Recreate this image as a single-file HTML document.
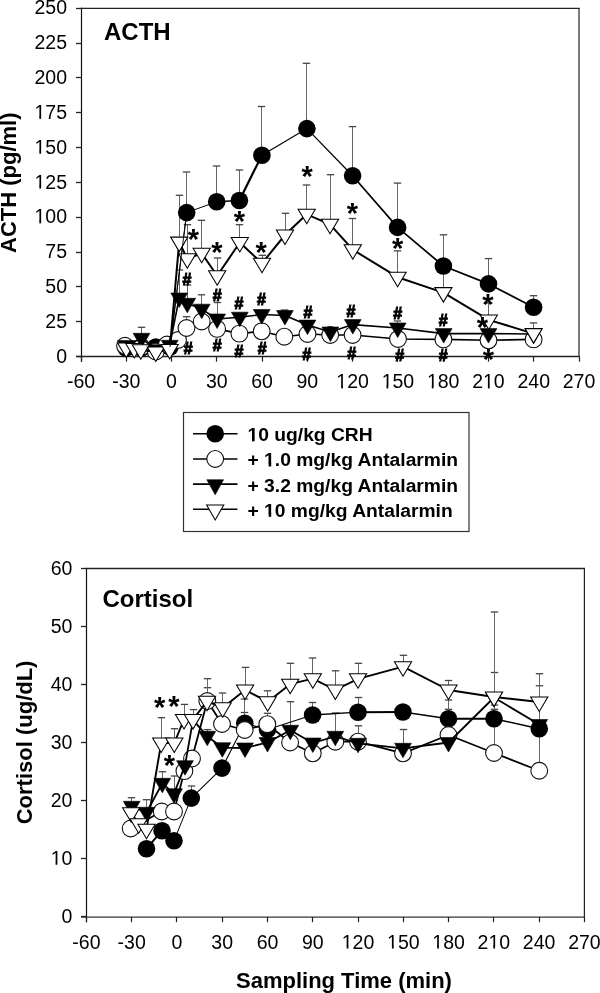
<!DOCTYPE html><html><head><meta charset="utf-8"><style>
html,body{margin:0;padding:0;background:#fff;width:600px;height:993px;overflow:hidden}
svg{position:absolute;left:0;top:0;filter:grayscale(1)}
.tk{font-family:'Liberation Sans',sans-serif;font-size:19.5px;fill:#000}
.b{font-family:'Liberation Sans',sans-serif;font-weight:bold;fill:#000}
</style></head><body>
<svg width="600" height="993" viewBox="0 0 600 993">
<line x1="80.8" y1="8.3" x2="579.6" y2="8.3" stroke="#222" stroke-width="1.3"/>
<line x1="579.0" y1="8.3" x2="579.0" y2="356.5" stroke="#222" stroke-width="1.2"/>
<line x1="81.5" y1="7.700000000000001" x2="81.5" y2="361.7" stroke="#111" stroke-width="1.2"/>
<line x1="76.0" y1="356.5" x2="579.6" y2="356.5" stroke="#222" stroke-width="1.3"/>
<line x1="76.0" y1="356.50" x2="81.5" y2="356.50" stroke="#222" stroke-width="1.3"/>
<text x="67" y="362.70" text-anchor="end" class="tk">0</text>
<line x1="76.0" y1="321.50" x2="81.5" y2="321.50" stroke="#222" stroke-width="1.3"/>
<text x="67" y="327.87" text-anchor="end" class="tk">25</text>
<line x1="76.0" y1="286.50" x2="81.5" y2="286.50" stroke="#222" stroke-width="1.3"/>
<text x="67" y="293.04" text-anchor="end" class="tk">50</text>
<line x1="76.0" y1="252.50" x2="81.5" y2="252.50" stroke="#222" stroke-width="1.3"/>
<text x="67" y="258.21" text-anchor="end" class="tk">75</text>
<line x1="76.0" y1="217.50" x2="81.5" y2="217.50" stroke="#222" stroke-width="1.3"/>
<text x="67" y="223.38" text-anchor="end" class="tk">100</text>
<line x1="76.0" y1="182.50" x2="81.5" y2="182.50" stroke="#222" stroke-width="1.3"/>
<text x="67" y="188.55" text-anchor="end" class="tk">125</text>
<line x1="76.0" y1="147.50" x2="81.5" y2="147.50" stroke="#222" stroke-width="1.3"/>
<text x="67" y="153.72" text-anchor="end" class="tk">150</text>
<line x1="76.0" y1="112.50" x2="81.5" y2="112.50" stroke="#222" stroke-width="1.3"/>
<text x="67" y="118.89" text-anchor="end" class="tk">175</text>
<line x1="76.0" y1="77.50" x2="81.5" y2="77.50" stroke="#222" stroke-width="1.3"/>
<text x="67" y="84.06" text-anchor="end" class="tk">200</text>
<line x1="76.0" y1="43.50" x2="81.5" y2="43.50" stroke="#222" stroke-width="1.3"/>
<text x="67" y="49.23" text-anchor="end" class="tk">225</text>
<line x1="76.0" y1="8.50" x2="81.5" y2="8.50" stroke="#222" stroke-width="1.3"/>
<text x="67" y="14.40" text-anchor="end" class="tk">250</text>
<line x1="81.50" y1="356.5" x2="81.50" y2="361.7" stroke="#222" stroke-width="1.2"/>
<text x="81.00" y="388.40" text-anchor="middle" class="tk">-60</text>
<line x1="126.50" y1="356.5" x2="126.50" y2="361.7" stroke="#222" stroke-width="1.2"/>
<text x="126.27" y="388.40" text-anchor="middle" class="tk">-30</text>
<line x1="171.50" y1="356.5" x2="171.50" y2="361.7" stroke="#222" stroke-width="1.2"/>
<text x="171.55" y="388.40" text-anchor="middle" class="tk">0</text>
<line x1="216.50" y1="356.5" x2="216.50" y2="361.7" stroke="#222" stroke-width="1.2"/>
<text x="216.82" y="388.40" text-anchor="middle" class="tk">30</text>
<line x1="262.50" y1="356.5" x2="262.50" y2="361.7" stroke="#222" stroke-width="1.2"/>
<text x="262.09" y="388.40" text-anchor="middle" class="tk">60</text>
<line x1="307.50" y1="356.5" x2="307.50" y2="361.7" stroke="#222" stroke-width="1.2"/>
<text x="307.36" y="388.40" text-anchor="middle" class="tk">90</text>
<line x1="352.50" y1="356.5" x2="352.50" y2="361.7" stroke="#222" stroke-width="1.2"/>
<text x="352.64" y="388.40" text-anchor="middle" class="tk">120</text>
<line x1="397.50" y1="356.5" x2="397.50" y2="361.7" stroke="#222" stroke-width="1.2"/>
<text x="397.91" y="388.40" text-anchor="middle" class="tk">150</text>
<line x1="443.50" y1="356.5" x2="443.50" y2="361.7" stroke="#222" stroke-width="1.2"/>
<text x="443.18" y="388.40" text-anchor="middle" class="tk">180</text>
<line x1="488.50" y1="356.5" x2="488.50" y2="361.7" stroke="#222" stroke-width="1.2"/>
<text x="488.45" y="388.40" text-anchor="middle" class="tk">210</text>
<line x1="533.50" y1="356.5" x2="533.50" y2="361.7" stroke="#222" stroke-width="1.2"/>
<text x="533.73" y="388.40" text-anchor="middle" class="tk">240</text>
<line x1="579.50" y1="356.5" x2="579.50" y2="361.7" stroke="#222" stroke-width="1.2"/>
<text x="579.00" y="388.40" text-anchor="middle" class="tk">270</text>
<line x1="85.8" y1="568.5" x2="585.0" y2="568.5" stroke="#222" stroke-width="1.3"/>
<line x1="584.4" y1="568.5" x2="584.4" y2="917.0" stroke="#222" stroke-width="1.2"/>
<line x1="86.5" y1="567.9" x2="86.5" y2="922.2" stroke="#111" stroke-width="1.2"/>
<line x1="81.0" y1="917.0" x2="585.0" y2="917.0" stroke="#333" stroke-width="1.25"/>
<line x1="81.0" y1="916.50" x2="86.5" y2="916.50" stroke="#222" stroke-width="1.3"/>
<text x="72.4" y="922.80" text-anchor="end" class="tk">0</text>
<line x1="81.0" y1="858.50" x2="86.5" y2="858.50" stroke="#222" stroke-width="1.3"/>
<text x="72.4" y="864.77" text-anchor="end" class="tk">10</text>
<line x1="81.0" y1="800.50" x2="86.5" y2="800.50" stroke="#222" stroke-width="1.3"/>
<text x="72.4" y="806.73" text-anchor="end" class="tk">20</text>
<line x1="81.0" y1="742.50" x2="86.5" y2="742.50" stroke="#222" stroke-width="1.3"/>
<text x="72.4" y="748.70" text-anchor="end" class="tk">30</text>
<line x1="81.0" y1="684.50" x2="86.5" y2="684.50" stroke="#222" stroke-width="1.3"/>
<text x="72.4" y="690.67" text-anchor="end" class="tk">40</text>
<line x1="81.0" y1="626.50" x2="86.5" y2="626.50" stroke="#222" stroke-width="1.3"/>
<text x="72.4" y="632.63" text-anchor="end" class="tk">50</text>
<line x1="81.0" y1="568.50" x2="86.5" y2="568.50" stroke="#222" stroke-width="1.3"/>
<text x="72.4" y="574.60" text-anchor="end" class="tk">60</text>
<line x1="86.50" y1="917.0" x2="86.50" y2="922.2" stroke="#222" stroke-width="1.2"/>
<text x="86.40" y="948.50" text-anchor="middle" class="tk">-60</text>
<line x1="131.50" y1="917.0" x2="131.50" y2="922.2" stroke="#222" stroke-width="1.2"/>
<text x="131.67" y="948.50" text-anchor="middle" class="tk">-30</text>
<line x1="176.50" y1="917.0" x2="176.50" y2="922.2" stroke="#222" stroke-width="1.2"/>
<text x="176.95" y="948.50" text-anchor="middle" class="tk">0</text>
<line x1="222.50" y1="917.0" x2="222.50" y2="922.2" stroke="#222" stroke-width="1.2"/>
<text x="222.22" y="948.50" text-anchor="middle" class="tk">30</text>
<line x1="267.50" y1="917.0" x2="267.50" y2="922.2" stroke="#222" stroke-width="1.2"/>
<text x="267.49" y="948.50" text-anchor="middle" class="tk">60</text>
<line x1="312.50" y1="917.0" x2="312.50" y2="922.2" stroke="#222" stroke-width="1.2"/>
<text x="312.76" y="948.50" text-anchor="middle" class="tk">90</text>
<line x1="358.50" y1="917.0" x2="358.50" y2="922.2" stroke="#222" stroke-width="1.2"/>
<text x="358.04" y="948.50" text-anchor="middle" class="tk">120</text>
<line x1="403.50" y1="917.0" x2="403.50" y2="922.2" stroke="#222" stroke-width="1.2"/>
<text x="403.31" y="948.50" text-anchor="middle" class="tk">150</text>
<line x1="448.50" y1="917.0" x2="448.50" y2="922.2" stroke="#222" stroke-width="1.2"/>
<text x="448.58" y="948.50" text-anchor="middle" class="tk">180</text>
<line x1="493.50" y1="917.0" x2="493.50" y2="922.2" stroke="#222" stroke-width="1.2"/>
<text x="493.85" y="948.50" text-anchor="middle" class="tk">210</text>
<line x1="539.50" y1="917.0" x2="539.50" y2="922.2" stroke="#222" stroke-width="1.2"/>
<text x="539.13" y="948.50" text-anchor="middle" class="tk">240</text>
<line x1="584.50" y1="917.0" x2="584.50" y2="922.2" stroke="#222" stroke-width="1.2"/>
<text x="584.40" y="948.50" text-anchor="middle" class="tk">270</text>
<text x="104" y="40" class="b" style="font-size:24px">ACTH</text>
<text x="102.5" y="606.5" class="b" style="font-size:24px">Cortisol</text>
<text transform="translate(16.4,253) rotate(-90)" class="b" style="font-size:22px">ACTH (pg/ml)</text>
<text transform="translate(32.4,824.3) rotate(-90)" class="b" style="font-size:22px">Cortisol (ug/dL)</text>
<text x="236" y="987.5" class="b" style="font-size:22px">Sampling Time (min)</text>
<rect x="183.5" y="412.5" width="285.5" height="119" fill="none" stroke="#333" stroke-width="1.2"/>
<line x1="193" y1="433.8" x2="237.5" y2="433.8" stroke="#000" stroke-width="1.6"/>
<circle cx="215.20" cy="433.80" r="8.8" fill="#000"/>
<text x="247.5" y="441.30" class="b" style="font-size:19.25px">10 ug/kg CRH</text>
<line x1="193" y1="458.97" x2="237.5" y2="458.97" stroke="#000" stroke-width="1.6"/>
<circle cx="215.20" cy="458.97" r="8.4" fill="#fff" stroke="#111" stroke-width="1.1"/>
<text x="247.5" y="466.47" class="b" style="font-size:19.25px">+ 1.0 mg/kg Antalarmin</text>
<line x1="193" y1="484.14" x2="237.5" y2="484.14" stroke="#000" stroke-width="1.6"/>
<polygon points="206.80,479.74 223.60,479.74 215.20,494.74" fill="#000" stroke="#000" stroke-width="0.6"/>
<text x="247.5" y="491.64" class="b" style="font-size:19.25px">+ 3.2 mg/kg Antalarmin</text>
<line x1="193" y1="509.31" x2="237.5" y2="509.31" stroke="#000" stroke-width="1.6"/>
<polygon points="206.60,504.91 223.80,504.91 215.20,519.91" fill="#fff" stroke="#000" stroke-width="1.05" stroke-linejoin="miter"/>
<text x="247.5" y="516.81" class="b" style="font-size:19.25px">+ 10 mg/kg Antalarmin</text>
<line x1="186.5" y1="212.6" x2="186.5" y2="172" stroke="#666" stroke-width="1.05"/>
<line x1="182.8" y1="172" x2="190.2" y2="172" stroke="#444" stroke-width="1.3"/>
<line x1="216.5" y1="201.7" x2="216.5" y2="166" stroke="#666" stroke-width="1.05"/>
<line x1="212.8" y1="166" x2="220.2" y2="166" stroke="#444" stroke-width="1.3"/>
<line x1="239.5" y1="200.5" x2="239.5" y2="170" stroke="#666" stroke-width="1.05"/>
<line x1="235.8" y1="170" x2="243.2" y2="170" stroke="#444" stroke-width="1.3"/>
<line x1="261.5" y1="155.2" x2="261.5" y2="106.5" stroke="#666" stroke-width="1.05"/>
<line x1="257.8" y1="106.5" x2="265.2" y2="106.5" stroke="#444" stroke-width="1.3"/>
<line x1="306.5" y1="128.6" x2="306.5" y2="63.3" stroke="#666" stroke-width="1.05"/>
<line x1="302.8" y1="63.3" x2="310.2" y2="63.3" stroke="#444" stroke-width="1.3"/>
<line x1="352.5" y1="175.8" x2="352.5" y2="126.6" stroke="#666" stroke-width="1.05"/>
<line x1="348.8" y1="126.6" x2="356.2" y2="126.6" stroke="#444" stroke-width="1.3"/>
<line x1="397.5" y1="227.4" x2="397.5" y2="183.1" stroke="#666" stroke-width="1.05"/>
<line x1="393.8" y1="183.1" x2="401.2" y2="183.1" stroke="#444" stroke-width="1.3"/>
<line x1="443.5" y1="266" x2="443.5" y2="234.8" stroke="#666" stroke-width="1.05"/>
<line x1="439.8" y1="234.8" x2="447.2" y2="234.8" stroke="#444" stroke-width="1.3"/>
<line x1="488.5" y1="283.9" x2="488.5" y2="258.6" stroke="#666" stroke-width="1.05"/>
<line x1="484.8" y1="258.6" x2="492.2" y2="258.6" stroke="#444" stroke-width="1.3"/>
<line x1="533.5" y1="307.2" x2="533.5" y2="295.7" stroke="#666" stroke-width="1.05"/>
<line x1="529.8" y1="295.7" x2="537.2" y2="295.7" stroke="#444" stroke-width="1.3"/>
<line x1="186.5" y1="328" x2="186.5" y2="316.7" stroke="#666" stroke-width="1.05"/>
<line x1="182.8" y1="316.7" x2="190.2" y2="316.7" stroke="#444" stroke-width="1.3"/>
<line x1="141.5" y1="338.3" x2="141.5" y2="327.3" stroke="#666" stroke-width="1.05"/>
<line x1="137.8" y1="327.3" x2="145.2" y2="327.3" stroke="#444" stroke-width="1.3"/>
<line x1="179.5" y1="298" x2="179.5" y2="270" stroke="#666" stroke-width="1.05"/>
<line x1="175.8" y1="270" x2="183.2" y2="270" stroke="#444" stroke-width="1.3"/>
<line x1="187.5" y1="303.3" x2="187.5" y2="285" stroke="#666" stroke-width="1.05"/>
<line x1="183.8" y1="285" x2="191.2" y2="285" stroke="#444" stroke-width="1.3"/>
<line x1="201.5" y1="309.2" x2="201.5" y2="294.8" stroke="#666" stroke-width="1.05"/>
<line x1="197.8" y1="294.8" x2="205.2" y2="294.8" stroke="#444" stroke-width="1.3"/>
<line x1="217.5" y1="319" x2="217.5" y2="302.5" stroke="#666" stroke-width="1.05"/>
<line x1="213.8" y1="302.5" x2="221.2" y2="302.5" stroke="#444" stroke-width="1.3"/>
<line x1="284.5" y1="315.5" x2="284.5" y2="310" stroke="#666" stroke-width="1.05"/>
<line x1="280.8" y1="310" x2="288.2" y2="310" stroke="#444" stroke-width="1.3"/>
<line x1="397.5" y1="328" x2="397.5" y2="321" stroke="#666" stroke-width="1.05"/>
<line x1="393.8" y1="321" x2="401.2" y2="321" stroke="#444" stroke-width="1.3"/>
<line x1="179.5" y1="242.1" x2="179.5" y2="195.3" stroke="#666" stroke-width="1.05"/>
<line x1="175.8" y1="195.3" x2="183.2" y2="195.3" stroke="#444" stroke-width="1.3"/>
<line x1="187.5" y1="258.8" x2="187.5" y2="224.7" stroke="#666" stroke-width="1.05"/>
<line x1="183.8" y1="224.7" x2="191.2" y2="224.7" stroke="#444" stroke-width="1.3"/>
<line x1="201.5" y1="253.3" x2="201.5" y2="220.3" stroke="#666" stroke-width="1.05"/>
<line x1="197.8" y1="220.3" x2="205.2" y2="220.3" stroke="#444" stroke-width="1.3"/>
<line x1="217.5" y1="275.8" x2="217.5" y2="258" stroke="#666" stroke-width="1.05"/>
<line x1="213.8" y1="258" x2="221.2" y2="258" stroke="#444" stroke-width="1.3"/>
<line x1="239.5" y1="242.5" x2="239.5" y2="224.7" stroke="#666" stroke-width="1.05"/>
<line x1="235.8" y1="224.7" x2="243.2" y2="224.7" stroke="#444" stroke-width="1.3"/>
<line x1="262.5" y1="263.3" x2="262.5" y2="255.3" stroke="#666" stroke-width="1.05"/>
<line x1="258.8" y1="255.3" x2="266.2" y2="255.3" stroke="#444" stroke-width="1.3"/>
<line x1="285.5" y1="235" x2="285.5" y2="213.3" stroke="#666" stroke-width="1.05"/>
<line x1="281.8" y1="213.3" x2="289.2" y2="213.3" stroke="#444" stroke-width="1.3"/>
<line x1="306.5" y1="214.3" x2="306.5" y2="185" stroke="#666" stroke-width="1.05"/>
<line x1="302.8" y1="185" x2="310.2" y2="185" stroke="#444" stroke-width="1.3"/>
<line x1="330.5" y1="224.3" x2="330.5" y2="174.7" stroke="#666" stroke-width="1.05"/>
<line x1="326.8" y1="174.7" x2="334.2" y2="174.7" stroke="#444" stroke-width="1.3"/>
<line x1="352.5" y1="249.7" x2="352.5" y2="218.5" stroke="#666" stroke-width="1.05"/>
<line x1="348.8" y1="218.5" x2="356.2" y2="218.5" stroke="#444" stroke-width="1.3"/>
<line x1="397.5" y1="277.2" x2="397.5" y2="250.9" stroke="#666" stroke-width="1.05"/>
<line x1="393.8" y1="250.9" x2="401.2" y2="250.9" stroke="#444" stroke-width="1.3"/>
<line x1="443.5" y1="292.6" x2="443.5" y2="270" stroke="#666" stroke-width="1.05"/>
<line x1="439.8" y1="270" x2="447.2" y2="270" stroke="#444" stroke-width="1.3"/>
<line x1="488.5" y1="319.9" x2="488.5" y2="303" stroke="#666" stroke-width="1.05"/>
<line x1="484.8" y1="303" x2="492.2" y2="303" stroke="#444" stroke-width="1.3"/>
<line x1="533.5" y1="333.6" x2="533.5" y2="322.9" stroke="#666" stroke-width="1.05"/>
<line x1="529.8" y1="322.9" x2="537.2" y2="322.9" stroke="#444" stroke-width="1.3"/>
<line x1="191.5" y1="798.1" x2="191.5" y2="786" stroke="#666" stroke-width="1.05"/>
<line x1="187.8" y1="786" x2="195.2" y2="786" stroke="#444" stroke-width="1.3"/>
<line x1="244.5" y1="723.3" x2="244.5" y2="712.5" stroke="#666" stroke-width="1.05"/>
<line x1="240.8" y1="712.5" x2="248.2" y2="712.5" stroke="#444" stroke-width="1.3"/>
<line x1="312.5" y1="715" x2="312.5" y2="702.5" stroke="#666" stroke-width="1.05"/>
<line x1="308.8" y1="702.5" x2="316.2" y2="702.5" stroke="#444" stroke-width="1.3"/>
<line x1="358.5" y1="712.2" x2="358.5" y2="697.5" stroke="#666" stroke-width="1.05"/>
<line x1="354.8" y1="697.5" x2="362.2" y2="697.5" stroke="#444" stroke-width="1.3"/>
<line x1="448.5" y1="718.75" x2="448.5" y2="709.3" stroke="#666" stroke-width="1.05"/>
<line x1="444.8" y1="709.3" x2="452.2" y2="709.3" stroke="#444" stroke-width="1.3"/>
<line x1="494.5" y1="718.75" x2="494.5" y2="709.3" stroke="#666" stroke-width="1.05"/>
<line x1="490.8" y1="709.3" x2="498.2" y2="709.3" stroke="#444" stroke-width="1.3"/>
<line x1="207.5" y1="701" x2="207.5" y2="687.7" stroke="#666" stroke-width="1.05"/>
<line x1="203.8" y1="687.7" x2="211.2" y2="687.7" stroke="#444" stroke-width="1.3"/>
<line x1="244.5" y1="730" x2="244.5" y2="699" stroke="#666" stroke-width="1.05"/>
<line x1="240.8" y1="699" x2="248.2" y2="699" stroke="#444" stroke-width="1.3"/>
<line x1="267.5" y1="724.2" x2="267.5" y2="713.3" stroke="#666" stroke-width="1.05"/>
<line x1="263.8" y1="713.3" x2="271.2" y2="713.3" stroke="#444" stroke-width="1.3"/>
<line x1="358.5" y1="741.7" x2="358.5" y2="725.8" stroke="#666" stroke-width="1.05"/>
<line x1="354.8" y1="725.8" x2="362.2" y2="725.8" stroke="#444" stroke-width="1.3"/>
<line x1="448.5" y1="735" x2="448.5" y2="700" stroke="#666" stroke-width="1.05"/>
<line x1="444.8" y1="700" x2="452.2" y2="700" stroke="#444" stroke-width="1.3"/>
<line x1="494.5" y1="753" x2="494.5" y2="705" stroke="#666" stroke-width="1.05"/>
<line x1="490.8" y1="705" x2="498.2" y2="705" stroke="#444" stroke-width="1.3"/>
<line x1="539.5" y1="770.75" x2="539.5" y2="705" stroke="#666" stroke-width="1.05"/>
<line x1="535.8" y1="705" x2="543.2" y2="705" stroke="#444" stroke-width="1.3"/>
<line x1="131.5" y1="806.3" x2="131.5" y2="797.7" stroke="#666" stroke-width="1.05"/>
<line x1="127.8" y1="797.7" x2="135.2" y2="797.7" stroke="#444" stroke-width="1.3"/>
<line x1="146.5" y1="812.3" x2="146.5" y2="799.7" stroke="#666" stroke-width="1.05"/>
<line x1="142.8" y1="799.7" x2="150.2" y2="799.7" stroke="#444" stroke-width="1.3"/>
<line x1="162.5" y1="783.3" x2="162.5" y2="771.7" stroke="#666" stroke-width="1.05"/>
<line x1="158.8" y1="771.7" x2="166.2" y2="771.7" stroke="#444" stroke-width="1.3"/>
<line x1="174.5" y1="793.7" x2="174.5" y2="776" stroke="#666" stroke-width="1.05"/>
<line x1="170.8" y1="776" x2="178.2" y2="776" stroke="#444" stroke-width="1.3"/>
<line x1="207.5" y1="736.3" x2="207.5" y2="729.6" stroke="#666" stroke-width="1.05"/>
<line x1="203.8" y1="729.6" x2="211.2" y2="729.6" stroke="#444" stroke-width="1.3"/>
<line x1="290.5" y1="730.3" x2="290.5" y2="701.7" stroke="#666" stroke-width="1.05"/>
<line x1="286.8" y1="701.7" x2="294.2" y2="701.7" stroke="#444" stroke-width="1.3"/>
<line x1="335.5" y1="736.3" x2="335.5" y2="713" stroke="#666" stroke-width="1.05"/>
<line x1="331.8" y1="713" x2="339.2" y2="713" stroke="#444" stroke-width="1.3"/>
<line x1="403.5" y1="748.3" x2="403.5" y2="729.5" stroke="#666" stroke-width="1.05"/>
<line x1="399.8" y1="729.5" x2="407.2" y2="729.5" stroke="#444" stroke-width="1.3"/>
<line x1="494.5" y1="697.5" x2="494.5" y2="672.5" stroke="#666" stroke-width="1.05"/>
<line x1="490.8" y1="672.5" x2="498.2" y2="672.5" stroke="#444" stroke-width="1.3"/>
<line x1="539.5" y1="724.5" x2="539.5" y2="685.75" stroke="#666" stroke-width="1.05"/>
<line x1="535.8" y1="685.75" x2="543.2" y2="685.75" stroke="#444" stroke-width="1.3"/>
<line x1="161.5" y1="743" x2="161.5" y2="717.7" stroke="#666" stroke-width="1.05"/>
<line x1="157.8" y1="717.7" x2="165.2" y2="717.7" stroke="#444" stroke-width="1.3"/>
<line x1="174.5" y1="743" x2="174.5" y2="728.7" stroke="#666" stroke-width="1.05"/>
<line x1="170.8" y1="728.7" x2="178.2" y2="728.7" stroke="#444" stroke-width="1.3"/>
<line x1="184.5" y1="719.4" x2="184.5" y2="704.4" stroke="#666" stroke-width="1.05"/>
<line x1="180.8" y1="704.4" x2="188.2" y2="704.4" stroke="#444" stroke-width="1.3"/>
<line x1="193.5" y1="719.4" x2="193.5" y2="709.6" stroke="#666" stroke-width="1.05"/>
<line x1="189.8" y1="709.6" x2="197.2" y2="709.6" stroke="#444" stroke-width="1.3"/>
<line x1="207.5" y1="701.3" x2="207.5" y2="678.7" stroke="#666" stroke-width="1.05"/>
<line x1="203.8" y1="678.7" x2="211.2" y2="678.7" stroke="#444" stroke-width="1.3"/>
<line x1="222.5" y1="707.7" x2="222.5" y2="693" stroke="#666" stroke-width="1.05"/>
<line x1="218.8" y1="693" x2="226.2" y2="693" stroke="#444" stroke-width="1.3"/>
<line x1="245.5" y1="690" x2="245.5" y2="667.4" stroke="#666" stroke-width="1.05"/>
<line x1="241.8" y1="667.4" x2="249.2" y2="667.4" stroke="#444" stroke-width="1.3"/>
<line x1="267.5" y1="701.7" x2="267.5" y2="690.8" stroke="#666" stroke-width="1.05"/>
<line x1="263.8" y1="690.8" x2="271.2" y2="690.8" stroke="#444" stroke-width="1.3"/>
<line x1="290.5" y1="684.2" x2="290.5" y2="663.3" stroke="#666" stroke-width="1.05"/>
<line x1="286.8" y1="663.3" x2="294.2" y2="663.3" stroke="#444" stroke-width="1.3"/>
<line x1="312.5" y1="678.7" x2="312.5" y2="658" stroke="#666" stroke-width="1.05"/>
<line x1="308.8" y1="658" x2="316.2" y2="658" stroke="#444" stroke-width="1.3"/>
<line x1="335.5" y1="690" x2="335.5" y2="670.8" stroke="#666" stroke-width="1.05"/>
<line x1="331.8" y1="670.8" x2="339.2" y2="670.8" stroke="#444" stroke-width="1.3"/>
<line x1="358.5" y1="678.8" x2="358.5" y2="663.3" stroke="#666" stroke-width="1.05"/>
<line x1="354.8" y1="663.3" x2="362.2" y2="663.3" stroke="#444" stroke-width="1.3"/>
<line x1="403.5" y1="666.7" x2="403.5" y2="655.3" stroke="#666" stroke-width="1.05"/>
<line x1="399.8" y1="655.3" x2="407.2" y2="655.3" stroke="#444" stroke-width="1.3"/>
<line x1="448.5" y1="690" x2="448.5" y2="680.5" stroke="#666" stroke-width="1.05"/>
<line x1="444.8" y1="680.5" x2="452.2" y2="680.5" stroke="#444" stroke-width="1.3"/>
<line x1="494.5" y1="697" x2="494.5" y2="612" stroke="#666" stroke-width="1.05"/>
<line x1="490.8" y1="612" x2="498.2" y2="612" stroke="#444" stroke-width="1.3"/>
<line x1="539.5" y1="702" x2="539.5" y2="673.75" stroke="#666" stroke-width="1.05"/>
<line x1="535.8" y1="673.75" x2="543.2" y2="673.75" stroke="#444" stroke-width="1.3"/>
<line x1="126" y1="348" x2="141.5" y2="348" stroke="#000" stroke-width="1.7" stroke-linecap="round"/>
<line x1="141.5" y1="348" x2="155.8" y2="347" stroke="#000" stroke-width="1.7" stroke-linecap="round"/>
<line x1="155.8" y1="347" x2="170" y2="347" stroke="#000" stroke-width="1.7" stroke-linecap="round"/>
<line x1="170" y1="347" x2="186.7" y2="212.6" stroke="#000" stroke-width="1.0" stroke-linecap="round"/>
<line x1="186.7" y1="212.6" x2="216.7" y2="201.7" stroke="#000" stroke-width="1.0" stroke-linecap="round"/>
<line x1="216.7" y1="201.7" x2="239.4" y2="200.5" stroke="#000" stroke-width="1.6" stroke-linecap="round"/>
<line x1="239.4" y1="200.5" x2="261.9" y2="155.2" stroke="#000" stroke-width="2.2" stroke-linecap="round"/>
<line x1="261.9" y1="155.2" x2="306.9" y2="128.6" stroke="#000" stroke-width="1.2" stroke-linecap="round"/>
<line x1="306.9" y1="128.6" x2="352.6" y2="175.8" stroke="#000" stroke-width="1.3" stroke-linecap="round"/>
<line x1="352.6" y1="175.8" x2="397.6" y2="227.4" stroke="#000" stroke-width="1.7" stroke-linecap="round"/>
<line x1="397.6" y1="227.4" x2="443.4" y2="266" stroke="#000" stroke-width="1.7" stroke-linecap="round"/>
<line x1="443.4" y1="266" x2="488.5" y2="283.9" stroke="#000" stroke-width="1.7" stroke-linecap="round"/>
<line x1="488.5" y1="283.9" x2="533.6" y2="307.2" stroke="#000" stroke-width="1.7" stroke-linecap="round"/>
<circle cx="126.00" cy="348.00" r="8.8" fill="#000"/>
<circle cx="141.50" cy="348.00" r="8.8" fill="#000"/>
<circle cx="155.80" cy="347.00" r="8.8" fill="#000"/>
<circle cx="170.00" cy="347.00" r="8.8" fill="#000"/>
<circle cx="186.70" cy="212.60" r="8.8" fill="#000"/>
<circle cx="216.70" cy="201.70" r="8.8" fill="#000"/>
<circle cx="239.40" cy="200.50" r="8.8" fill="#000"/>
<circle cx="261.90" cy="155.20" r="8.8" fill="#000"/>
<circle cx="306.90" cy="128.60" r="8.8" fill="#000"/>
<circle cx="352.60" cy="175.80" r="8.8" fill="#000"/>
<circle cx="397.60" cy="227.40" r="8.8" fill="#000"/>
<circle cx="443.40" cy="266.00" r="8.8" fill="#000"/>
<circle cx="488.50" cy="283.90" r="8.8" fill="#000"/>
<circle cx="533.60" cy="307.20" r="8.8" fill="#000"/>
<polyline points="125,345.8 141.5,347 155.8,351.5 167,344.5 178,340 186.5,328 201.7,321.5 217.1,328.9 239.4,333.6 261.7,331.3 284.3,336.7 307.5,334 330.2,335 352.6,335 398,339 443.4,339.4 488.5,340.3 533.6,339.4" fill="none" stroke="#000" stroke-width="1.6" stroke-linejoin="round"/>
<circle cx="125.00" cy="345.80" r="8.4" fill="#fff" stroke="#111" stroke-width="1.1"/>
<circle cx="141.50" cy="347.00" r="8.4" fill="#fff" stroke="#111" stroke-width="1.1"/>
<circle cx="155.80" cy="351.50" r="8.4" fill="#fff" stroke="#111" stroke-width="1.1"/>
<circle cx="167.00" cy="344.50" r="8.4" fill="#fff" stroke="#111" stroke-width="1.1"/>
<circle cx="178.00" cy="340.00" r="8.4" fill="#fff" stroke="#111" stroke-width="1.1"/>
<circle cx="186.50" cy="328.00" r="8.4" fill="#fff" stroke="#111" stroke-width="1.1"/>
<circle cx="201.70" cy="321.50" r="8.4" fill="#fff" stroke="#111" stroke-width="1.1"/>
<circle cx="217.10" cy="328.90" r="8.4" fill="#fff" stroke="#111" stroke-width="1.1"/>
<circle cx="239.40" cy="333.60" r="8.4" fill="#fff" stroke="#111" stroke-width="1.1"/>
<circle cx="261.70" cy="331.30" r="8.4" fill="#fff" stroke="#111" stroke-width="1.1"/>
<circle cx="284.30" cy="336.70" r="8.4" fill="#fff" stroke="#111" stroke-width="1.1"/>
<circle cx="307.50" cy="334.00" r="8.4" fill="#fff" stroke="#111" stroke-width="1.1"/>
<circle cx="330.20" cy="335.00" r="8.4" fill="#fff" stroke="#111" stroke-width="1.1"/>
<circle cx="352.60" cy="335.00" r="8.4" fill="#fff" stroke="#111" stroke-width="1.1"/>
<circle cx="398.00" cy="339.00" r="8.4" fill="#fff" stroke="#111" stroke-width="1.1"/>
<circle cx="443.40" cy="339.40" r="8.4" fill="#fff" stroke="#111" stroke-width="1.1"/>
<circle cx="488.50" cy="340.30" r="8.4" fill="#fff" stroke="#111" stroke-width="1.1"/>
<circle cx="533.60" cy="339.40" r="8.4" fill="#fff" stroke="#111" stroke-width="1.1"/>
<polyline points="126,345.5 141.5,338.3 155.8,349.7 169.7,345.3 179.2,298 187.3,303.3 201.7,309.2 217.1,319 239.8,317.2 261.7,314.5 284.9,315.5 307.5,325.1 330.4,332 352.8,324.6 397.7,328 443.7,333.6 488.5,333.6 533.6,334" fill="none" stroke="#000" stroke-width="1.6" stroke-linejoin="round"/>
<polygon points="117.60,340.50 134.40,340.50 126.00,355.00" fill="#000" stroke="#000" stroke-width="0.6"/>
<polygon points="133.10,333.30 149.90,333.30 141.50,347.80" fill="#000" stroke="#000" stroke-width="0.6"/>
<polygon points="147.40,344.70 164.20,344.70 155.80,359.20" fill="#000" stroke="#000" stroke-width="0.6"/>
<polygon points="161.30,340.30 178.10,340.30 169.70,354.80" fill="#000" stroke="#000" stroke-width="0.6"/>
<polygon points="170.80,293.00 187.60,293.00 179.20,307.50" fill="#000" stroke="#000" stroke-width="0.6"/>
<polygon points="178.90,298.30 195.70,298.30 187.30,312.80" fill="#000" stroke="#000" stroke-width="0.6"/>
<polygon points="193.30,304.20 210.10,304.20 201.70,318.70" fill="#000" stroke="#000" stroke-width="0.6"/>
<polygon points="208.70,314.00 225.50,314.00 217.10,328.50" fill="#000" stroke="#000" stroke-width="0.6"/>
<polygon points="231.40,312.20 248.20,312.20 239.80,326.70" fill="#000" stroke="#000" stroke-width="0.6"/>
<polygon points="253.30,309.50 270.10,309.50 261.70,324.00" fill="#000" stroke="#000" stroke-width="0.6"/>
<polygon points="276.50,310.50 293.30,310.50 284.90,325.00" fill="#000" stroke="#000" stroke-width="0.6"/>
<polygon points="299.10,320.10 315.90,320.10 307.50,334.60" fill="#000" stroke="#000" stroke-width="0.6"/>
<polygon points="322.00,327.00 338.80,327.00 330.40,341.50" fill="#000" stroke="#000" stroke-width="0.6"/>
<polygon points="344.40,319.60 361.20,319.60 352.80,334.10" fill="#000" stroke="#000" stroke-width="0.6"/>
<polygon points="389.30,323.00 406.10,323.00 397.70,337.50" fill="#000" stroke="#000" stroke-width="0.6"/>
<polygon points="435.30,328.60 452.10,328.60 443.70,343.10" fill="#000" stroke="#000" stroke-width="0.6"/>
<polygon points="480.10,328.60 496.90,328.60 488.50,343.10" fill="#000" stroke="#000" stroke-width="0.6"/>
<polygon points="525.20,329.00 542.00,329.00 533.60,343.50" fill="#000" stroke="#000" stroke-width="0.6"/>
<polyline points="126.2,347.9 134.3,348.5 140.8,349.7 155.8,352 169.7,349.5 179.2,242.1 187.3,258.8 201.7,253.3 217.2,275.8 239.8,242.5 262,263.3 285,235 306.7,214.3 330,224.3 352.8,249.7 397.6,277.2 443.4,292.6 488.8,319.9 533.6,333.6" fill="none" stroke="#000" stroke-width="2.0" stroke-linejoin="round"/>
<polygon points="117.60,342.90 134.80,342.90 126.20,357.40" fill="#fff" stroke="#000" stroke-width="1.05" stroke-linejoin="miter"/>
<polygon points="125.70,343.50 142.90,343.50 134.30,358.00" fill="#fff" stroke="#000" stroke-width="1.05" stroke-linejoin="miter"/>
<polygon points="132.20,344.70 149.40,344.70 140.80,359.20" fill="#fff" stroke="#000" stroke-width="1.05" stroke-linejoin="miter"/>
<polygon points="147.20,347.00 164.40,347.00 155.80,361.50" fill="#fff" stroke="#000" stroke-width="1.05" stroke-linejoin="miter"/>
<polygon points="161.10,344.50 178.30,344.50 169.70,359.00" fill="#fff" stroke="#000" stroke-width="1.05" stroke-linejoin="miter"/>
<polygon points="170.60,237.10 187.80,237.10 179.20,251.60" fill="#fff" stroke="#000" stroke-width="1.05" stroke-linejoin="miter"/>
<polygon points="178.70,253.80 195.90,253.80 187.30,268.30" fill="#fff" stroke="#000" stroke-width="1.05" stroke-linejoin="miter"/>
<polygon points="193.10,248.30 210.30,248.30 201.70,262.80" fill="#fff" stroke="#000" stroke-width="1.05" stroke-linejoin="miter"/>
<polygon points="208.60,270.80 225.80,270.80 217.20,285.30" fill="#fff" stroke="#000" stroke-width="1.05" stroke-linejoin="miter"/>
<polygon points="231.20,237.50 248.40,237.50 239.80,252.00" fill="#fff" stroke="#000" stroke-width="1.05" stroke-linejoin="miter"/>
<polygon points="253.40,258.30 270.60,258.30 262.00,272.80" fill="#fff" stroke="#000" stroke-width="1.05" stroke-linejoin="miter"/>
<polygon points="276.40,230.00 293.60,230.00 285.00,244.50" fill="#fff" stroke="#000" stroke-width="1.05" stroke-linejoin="miter"/>
<polygon points="298.10,209.30 315.30,209.30 306.70,223.80" fill="#fff" stroke="#000" stroke-width="1.05" stroke-linejoin="miter"/>
<polygon points="321.40,219.30 338.60,219.30 330.00,233.80" fill="#fff" stroke="#000" stroke-width="1.05" stroke-linejoin="miter"/>
<polygon points="344.20,244.70 361.40,244.70 352.80,259.20" fill="#fff" stroke="#000" stroke-width="1.05" stroke-linejoin="miter"/>
<polygon points="389.00,272.20 406.20,272.20 397.60,286.70" fill="#fff" stroke="#000" stroke-width="1.05" stroke-linejoin="miter"/>
<polygon points="434.80,287.60 452.00,287.60 443.40,302.10" fill="#fff" stroke="#000" stroke-width="1.05" stroke-linejoin="miter"/>
<polygon points="480.20,314.90 497.40,314.90 488.80,329.40" fill="#fff" stroke="#000" stroke-width="1.05" stroke-linejoin="miter"/>
<polygon points="525.00,328.60 542.20,328.60 533.60,343.10" fill="#fff" stroke="#000" stroke-width="1.05" stroke-linejoin="miter"/>
<line x1="146.5" y1="848.7" x2="162" y2="830.7" stroke="#000" stroke-width="2.0" stroke-linecap="round"/>
<line x1="162" y1="830.7" x2="174" y2="840.7" stroke="#000" stroke-width="1.8" stroke-linecap="round"/>
<line x1="174" y1="840.7" x2="191.3" y2="798.1" stroke="#000" stroke-width="1.0" stroke-linecap="round"/>
<line x1="191.3" y1="798.1" x2="222" y2="768.1" stroke="#000" stroke-width="1.1" stroke-linecap="round"/>
<line x1="222" y1="768.1" x2="244.8" y2="723.3" stroke="#000" stroke-width="1.1" stroke-linecap="round"/>
<line x1="244.8" y1="723.3" x2="267.5" y2="729.5" stroke="#000" stroke-width="1.2" stroke-linecap="round"/>
<line x1="267.5" y1="729.5" x2="312.6" y2="715" stroke="#000" stroke-width="1.1" stroke-linecap="round"/>
<line x1="312.6" y1="715" x2="358" y2="712.2" stroke="#000" stroke-width="1.3" stroke-linecap="round"/>
<line x1="358" y1="712.2" x2="402.9" y2="712" stroke="#000" stroke-width="1.9" stroke-linecap="round"/>
<line x1="402.9" y1="712" x2="448.5" y2="718.75" stroke="#000" stroke-width="1.5" stroke-linecap="round"/>
<line x1="448.5" y1="718.75" x2="494" y2="718.75" stroke="#000" stroke-width="1.9" stroke-linecap="round"/>
<line x1="494" y1="718.75" x2="539.25" y2="728.75" stroke="#000" stroke-width="1.5" stroke-linecap="round"/>
<circle cx="146.50" cy="848.70" r="8.8" fill="#000"/>
<circle cx="162.00" cy="830.70" r="8.8" fill="#000"/>
<circle cx="174.00" cy="840.70" r="8.8" fill="#000"/>
<circle cx="191.30" cy="798.10" r="8.8" fill="#000"/>
<circle cx="222.00" cy="768.10" r="8.8" fill="#000"/>
<circle cx="244.80" cy="723.30" r="8.8" fill="#000"/>
<circle cx="267.50" cy="729.50" r="8.8" fill="#000"/>
<circle cx="312.60" cy="715.00" r="8.8" fill="#000"/>
<circle cx="358.00" cy="712.20" r="8.8" fill="#000"/>
<circle cx="402.90" cy="712.00" r="8.8" fill="#000"/>
<circle cx="448.50" cy="718.75" r="8.8" fill="#000"/>
<circle cx="494.00" cy="718.75" r="8.8" fill="#000"/>
<circle cx="539.25" cy="728.75" r="8.8" fill="#000"/>
<polyline points="130.7,828.5 161.7,811.5 174,811.5 184.4,771.1 192,758.5 207.3,701 222,724 244.7,730 267.3,724.2 290.1,742.5 312.8,753.3 335.3,741.7 358,741.7 403,753.3 448.5,735 494,753 539.25,770.75" fill="none" stroke="#000" stroke-width="1.8" stroke-linejoin="round"/>
<circle cx="130.70" cy="828.50" r="8.4" fill="#fff" stroke="#111" stroke-width="1.1"/>
<circle cx="161.70" cy="811.50" r="8.4" fill="#fff" stroke="#111" stroke-width="1.1"/>
<circle cx="174.00" cy="811.50" r="8.4" fill="#fff" stroke="#111" stroke-width="1.1"/>
<circle cx="184.40" cy="771.10" r="8.4" fill="#fff" stroke="#111" stroke-width="1.1"/>
<circle cx="192.00" cy="758.50" r="8.4" fill="#fff" stroke="#111" stroke-width="1.1"/>
<circle cx="207.30" cy="701.00" r="8.4" fill="#fff" stroke="#111" stroke-width="1.1"/>
<circle cx="222.00" cy="724.00" r="8.4" fill="#fff" stroke="#111" stroke-width="1.1"/>
<circle cx="244.70" cy="730.00" r="8.4" fill="#fff" stroke="#111" stroke-width="1.1"/>
<circle cx="267.30" cy="724.20" r="8.4" fill="#fff" stroke="#111" stroke-width="1.1"/>
<circle cx="290.10" cy="742.50" r="8.4" fill="#fff" stroke="#111" stroke-width="1.1"/>
<circle cx="312.80" cy="753.30" r="8.4" fill="#fff" stroke="#111" stroke-width="1.1"/>
<circle cx="335.30" cy="741.70" r="8.4" fill="#fff" stroke="#111" stroke-width="1.1"/>
<circle cx="358.00" cy="741.70" r="8.4" fill="#fff" stroke="#111" stroke-width="1.1"/>
<circle cx="403.00" cy="753.30" r="8.4" fill="#fff" stroke="#111" stroke-width="1.1"/>
<circle cx="448.50" cy="735.00" r="8.4" fill="#fff" stroke="#111" stroke-width="1.1"/>
<circle cx="494.00" cy="753.00" r="8.4" fill="#fff" stroke="#111" stroke-width="1.1"/>
<circle cx="539.25" cy="770.75" r="8.4" fill="#fff" stroke="#111" stroke-width="1.1"/>
<polyline points="131.7,806.3 146.7,812.3 162.3,783.3 174,793.7 185,765.7 193,719.8 207.3,736.3 222.3,747.7 245,748 267.5,742.5 290.3,730.3 312.8,743 335.3,736.3 358,743.3 403,748.3 448.5,742.5 494,697.5 539.25,724.5" fill="none" stroke="#000" stroke-width="1.8" stroke-linejoin="round"/>
<polygon points="123.30,801.30 140.10,801.30 131.70,815.80" fill="#000" stroke="#000" stroke-width="0.6"/>
<polygon points="138.30,807.30 155.10,807.30 146.70,821.80" fill="#000" stroke="#000" stroke-width="0.6"/>
<polygon points="153.90,778.30 170.70,778.30 162.30,792.80" fill="#000" stroke="#000" stroke-width="0.6"/>
<polygon points="165.60,788.70 182.40,788.70 174.00,803.20" fill="#000" stroke="#000" stroke-width="0.6"/>
<polygon points="176.60,760.70 193.40,760.70 185.00,775.20" fill="#000" stroke="#000" stroke-width="0.6"/>
<polygon points="184.60,714.80 201.40,714.80 193.00,729.30" fill="#000" stroke="#000" stroke-width="0.6"/>
<polygon points="198.90,731.30 215.70,731.30 207.30,745.80" fill="#000" stroke="#000" stroke-width="0.6"/>
<polygon points="213.90,742.70 230.70,742.70 222.30,757.20" fill="#000" stroke="#000" stroke-width="0.6"/>
<polygon points="236.60,743.00 253.40,743.00 245.00,757.50" fill="#000" stroke="#000" stroke-width="0.6"/>
<polygon points="259.10,737.50 275.90,737.50 267.50,752.00" fill="#000" stroke="#000" stroke-width="0.6"/>
<polygon points="281.90,725.30 298.70,725.30 290.30,739.80" fill="#000" stroke="#000" stroke-width="0.6"/>
<polygon points="304.40,738.00 321.20,738.00 312.80,752.50" fill="#000" stroke="#000" stroke-width="0.6"/>
<polygon points="326.90,731.30 343.70,731.30 335.30,745.80" fill="#000" stroke="#000" stroke-width="0.6"/>
<polygon points="349.60,738.30 366.40,738.30 358.00,752.80" fill="#000" stroke="#000" stroke-width="0.6"/>
<polygon points="394.60,743.30 411.40,743.30 403.00,757.80" fill="#000" stroke="#000" stroke-width="0.6"/>
<polygon points="440.10,737.50 456.90,737.50 448.50,752.00" fill="#000" stroke="#000" stroke-width="0.6"/>
<polygon points="485.60,692.50 502.40,692.50 494.00,707.00" fill="#000" stroke="#000" stroke-width="0.6"/>
<polygon points="530.85,719.50 547.65,719.50 539.25,734.00" fill="#000" stroke="#000" stroke-width="0.6"/>
<polyline points="131.2,812.7 138.7,823.7 146.5,829.3 161.2,743 174.3,743 184,719.4 193,719.4 207,701.3 222.7,707.7 245.1,690 267.7,701.7 290.2,684.2 312.8,678.7 335.3,690 358,678.8 403,666.7 448.5,690 494,697 539.25,702" fill="none" stroke="#000" stroke-width="1.9" stroke-linejoin="round"/>
<polygon points="122.60,807.70 139.80,807.70 131.20,822.20" fill="#fff" stroke="#000" stroke-width="1.05" stroke-linejoin="miter"/>
<polygon points="130.10,818.70 147.30,818.70 138.70,833.20" fill="#fff" stroke="#000" stroke-width="1.05" stroke-linejoin="miter"/>
<polygon points="137.90,824.30 155.10,824.30 146.50,838.80" fill="#fff" stroke="#000" stroke-width="1.05" stroke-linejoin="miter"/>
<polygon points="152.60,738.00 169.80,738.00 161.20,752.50" fill="#fff" stroke="#000" stroke-width="1.05" stroke-linejoin="miter"/>
<polygon points="165.70,738.00 182.90,738.00 174.30,752.50" fill="#fff" stroke="#000" stroke-width="1.05" stroke-linejoin="miter"/>
<polygon points="175.40,714.40 192.60,714.40 184.00,728.90" fill="#fff" stroke="#000" stroke-width="1.05" stroke-linejoin="miter"/>
<polygon points="184.40,714.40 201.60,714.40 193.00,728.90" fill="#fff" stroke="#000" stroke-width="1.05" stroke-linejoin="miter"/>
<polygon points="198.40,696.30 215.60,696.30 207.00,710.80" fill="#fff" stroke="#000" stroke-width="1.05" stroke-linejoin="miter"/>
<polygon points="214.10,702.70 231.30,702.70 222.70,717.20" fill="#fff" stroke="#000" stroke-width="1.05" stroke-linejoin="miter"/>
<polygon points="236.50,685.00 253.70,685.00 245.10,699.50" fill="#fff" stroke="#000" stroke-width="1.05" stroke-linejoin="miter"/>
<polygon points="259.10,696.70 276.30,696.70 267.70,711.20" fill="#fff" stroke="#000" stroke-width="1.05" stroke-linejoin="miter"/>
<polygon points="281.60,679.20 298.80,679.20 290.20,693.70" fill="#fff" stroke="#000" stroke-width="1.05" stroke-linejoin="miter"/>
<polygon points="304.20,673.70 321.40,673.70 312.80,688.20" fill="#fff" stroke="#000" stroke-width="1.05" stroke-linejoin="miter"/>
<polygon points="326.70,685.00 343.90,685.00 335.30,699.50" fill="#fff" stroke="#000" stroke-width="1.05" stroke-linejoin="miter"/>
<polygon points="349.40,673.80 366.60,673.80 358.00,688.30" fill="#fff" stroke="#000" stroke-width="1.05" stroke-linejoin="miter"/>
<polygon points="394.40,661.70 411.60,661.70 403.00,676.20" fill="#fff" stroke="#000" stroke-width="1.05" stroke-linejoin="miter"/>
<polygon points="439.90,685.00 457.10,685.00 448.50,699.50" fill="#fff" stroke="#000" stroke-width="1.05" stroke-linejoin="miter"/>
<polygon points="485.40,692.00 502.60,692.00 494.00,706.50" fill="#fff" stroke="#000" stroke-width="1.05" stroke-linejoin="miter"/>
<polygon points="530.65,697.00 547.85,697.00 539.25,711.50" fill="#fff" stroke="#000" stroke-width="1.05" stroke-linejoin="miter"/>
<text x="193.5" y="249.1" text-anchor="middle" class="b" style="font-size:29px">*</text>
<text x="216.9" y="261.5" text-anchor="middle" class="b" style="font-size:29px">*</text>
<text x="239.4" y="231.2" text-anchor="middle" class="b" style="font-size:29px">*</text>
<text x="261.2" y="261.5" text-anchor="middle" class="b" style="font-size:29px">*</text>
<text x="307.2" y="185.5" text-anchor="middle" class="b" style="font-size:29px">*</text>
<text x="352.5" y="223.0" text-anchor="middle" class="b" style="font-size:29px">*</text>
<text x="397.6" y="258.1" text-anchor="middle" class="b" style="font-size:29px">*</text>
<text x="487.8" y="313.8" text-anchor="middle" class="b" style="font-size:29px">*</text>
<text x="482.5" y="337.1" text-anchor="middle" class="b" style="font-size:29px">*</text>
<text x="488.5" y="368.5" text-anchor="middle" class="b" style="font-size:29px">*</text>
<text x="159.7" y="716.5" text-anchor="middle" class="b" style="font-size:29px">*</text>
<text x="173.8" y="715.8" text-anchor="middle" class="b" style="font-size:29px">*</text>
<text x="169.3" y="774.5" text-anchor="middle" class="b" style="font-size:29px">*</text>
<text x="187.00" y="284.70" text-anchor="middle" class="b" style="font-size:16px" stroke="#000" stroke-width="1.0">#</text>
<text x="217.10" y="300.70" text-anchor="middle" class="b" style="font-size:16px" stroke="#000" stroke-width="1.0">#</text>
<text x="238.90" y="309.20" text-anchor="middle" class="b" style="font-size:16px" stroke="#000" stroke-width="1.0">#</text>
<text x="261.40" y="305.00" text-anchor="middle" class="b" style="font-size:16px" stroke="#000" stroke-width="1.0">#</text>
<text x="308.00" y="317.80" text-anchor="middle" class="b" style="font-size:16px" stroke="#000" stroke-width="1.0">#</text>
<text x="351.00" y="316.70" text-anchor="middle" class="b" style="font-size:16px" stroke="#000" stroke-width="1.0">#</text>
<text x="397.70" y="318.70" text-anchor="middle" class="b" style="font-size:16px" stroke="#000" stroke-width="1.0">#</text>
<text x="443.10" y="326.00" text-anchor="middle" class="b" style="font-size:16px" stroke="#000" stroke-width="1.0">#</text>
<text x="188.20" y="353.70" text-anchor="middle" class="b" style="font-size:16px" stroke="#000" stroke-width="1.0">#</text>
<text x="217.10" y="350.70" text-anchor="middle" class="b" style="font-size:16px" stroke="#000" stroke-width="1.0">#</text>
<text x="238.90" y="356.50" text-anchor="middle" class="b" style="font-size:16px" stroke="#000" stroke-width="1.0">#</text>
<text x="262.20" y="354.40" text-anchor="middle" class="b" style="font-size:16px" stroke="#000" stroke-width="1.0">#</text>
<text x="306.70" y="359.70" text-anchor="middle" class="b" style="font-size:16px" stroke="#000" stroke-width="1.0">#</text>
<text x="351.70" y="359.30" text-anchor="middle" class="b" style="font-size:16px" stroke="#000" stroke-width="1.0">#</text>
<text x="399.70" y="360.70" text-anchor="middle" class="b" style="font-size:16px" stroke="#000" stroke-width="1.0">#</text>
<text x="443.10" y="360.70" text-anchor="middle" class="b" style="font-size:16px" stroke="#000" stroke-width="1.0">#</text>
<line x1="170" y1="347" x2="186.7" y2="212.6" stroke="#000" stroke-width="0.9"/>
<rect x="34.47" y="220.92" width="10.92" height="3.46" fill="#fff"/>
<rect x="39.35" y="220.32" width="1.76" height="3.06" fill="#000"/>
<rect x="34.47" y="186.09" width="10.92" height="3.46" fill="#fff"/>
<rect x="39.35" y="185.49" width="1.76" height="3.06" fill="#000"/>
<rect x="34.47" y="151.26" width="10.92" height="3.46" fill="#fff"/>
<rect x="39.35" y="150.66" width="1.76" height="3.06" fill="#000"/>
<rect x="34.47" y="116.43" width="10.92" height="3.46" fill="#fff"/>
<rect x="39.35" y="115.83" width="1.76" height="3.06" fill="#000"/>
<rect x="336.37" y="385.94" width="10.92" height="3.46" fill="#fff"/>
<rect x="341.25" y="385.34" width="1.76" height="3.06" fill="#000"/>
<rect x="381.65" y="385.94" width="10.92" height="3.46" fill="#fff"/>
<rect x="386.52" y="385.34" width="1.76" height="3.06" fill="#000"/>
<rect x="426.92" y="385.94" width="10.92" height="3.46" fill="#fff"/>
<rect x="431.79" y="385.34" width="1.76" height="3.06" fill="#000"/>
<rect x="483.03" y="385.94" width="10.92" height="3.46" fill="#fff"/>
<rect x="487.91" y="385.34" width="1.76" height="3.06" fill="#000"/>
<rect x="50.72" y="862.30" width="10.92" height="3.46" fill="#fff"/>
<rect x="55.59" y="861.70" width="1.76" height="3.06" fill="#000"/>
<rect x="341.77" y="946.04" width="10.92" height="3.46" fill="#fff"/>
<rect x="346.65" y="945.44" width="1.76" height="3.06" fill="#000"/>
<rect x="387.05" y="946.04" width="10.92" height="3.46" fill="#fff"/>
<rect x="391.92" y="945.44" width="1.76" height="3.06" fill="#000"/>
<rect x="432.32" y="946.04" width="10.92" height="3.46" fill="#fff"/>
<rect x="437.19" y="945.44" width="1.76" height="3.06" fill="#000"/>
<rect x="488.43" y="946.04" width="10.92" height="3.46" fill="#fff"/>
<rect x="493.31" y="945.44" width="1.76" height="3.06" fill="#000"/>
<rect x="247.50" y="438.28" width="11.07" height="4.02" fill="#fff"/>
<rect x="252.02" y="437.68" width="2.60" height="3.62" fill="#000"/>
<rect x="264.09" y="463.45" width="11.07" height="4.02" fill="#fff"/>
<rect x="268.62" y="462.85" width="2.60" height="3.62" fill="#000"/>
<rect x="264.09" y="513.79" width="11.07" height="4.02" fill="#fff"/>
<rect x="268.62" y="513.19" width="2.60" height="3.62" fill="#000"/>
</svg></body></html>
